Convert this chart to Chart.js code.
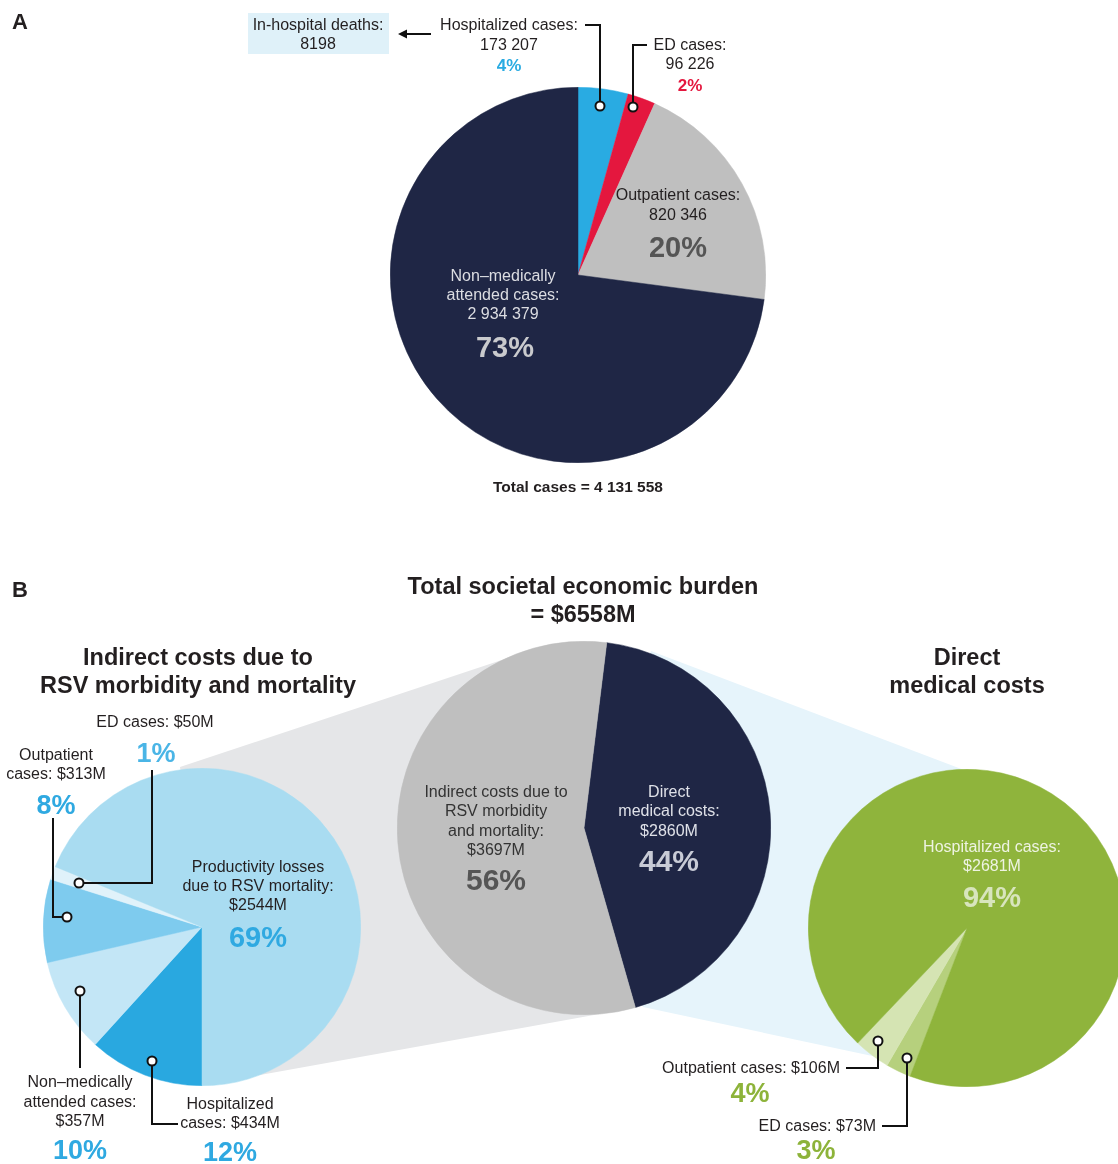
<!DOCTYPE html>
<html>
<head>
<meta charset="utf-8">
<script src="https://cdn.jsdelivr.net/npm/chart.js@4.4.1/dist/chart.umd.min.js"></script>
<style>
  html, body { margin: 0; padding: 0; background: #fff; overflow: hidden; }
  #page { position: relative; width: 1118px; height: 1164px; overflow: hidden;
          font-family: "Liberation Sans", Arial, sans-serif; color: #231f20; }
  canvas { position: absolute; }
  svg { position: absolute; left: 0; top: 0; }
  .t { position: absolute; white-space: nowrap; transform: translate(-50%, -50%); font-size: 16px; line-height: 1; }
  .r { transform: translate(-100%, -50%); }
  .b { font-weight: bold; }
  .box { position: absolute; background: #dff1f9; }
</style>
</head>
<body>
<div id="page">
  <svg id="under" width="1118" height="1164"></svg>
  <canvas id="casesPie"></canvas>
  <canvas id="burdenPie"></canvas>
  <canvas id="indirectPie"></canvas>
  <canvas id="directPie"></canvas>
  <svg id="over" width="1118" height="1164"></svg>
</div>
<script>
// Panel A: RSV cases by setting
const casesLabels = ["Hospitalized cases", "ED cases", "Outpatient cases", "Non–medically attended cases"];
const casesValues = [173207, 96226, 820346, 2934379];
const casesColors = ["#29abe2", "#e4173e", "#bfbfbf", "#1f2645"];
const totalCases = 4131558;
const inHospitalDeaths = 8198;

// Panel B: economic burden ($M)
const burdenLabels = ["Direct medical costs", "Indirect costs due to RSV morbidity and mortality"];
const burdenValues = [2860, 3697];
const burdenColors = ["#1f2645", "#bfbfbf"];
const totalBurden = 6558;

const indirectLabels = ["Hospitalized cases", "Non–medically attended cases", "Outpatient cases", "ED cases", "Productivity losses due to RSV mortality"];
const indirectValues = [434, 357, 313, 50, 2544];
const indirectColors = ["#29a8e0", "#c3e6f6", "#7ecbee", "#e0f2fa", "#a9dcf1"];

const directLabels = ["ED cases", "Outpatient cases", "Hospitalized cases"];
const directValues = [73, 106, 2681];
const directColors = ["#b6d07d", "#d5e4b3", "#8fb43c"];

const sp = n => n.toLocaleString("en-US").replace(/,/g, " ");
const pct = (arr, i) => Math.round(arr[i] / arr.reduce((a, b) => a + b, 0) * 100) + "%";
const page = document.getElementById("page");
const NS = "http://www.w3.org/2000/svg";

function pie(id, cx, cy, r, labels, values, colors, rotation) {
  const c = document.getElementById(id);
  c.width = 2 * r; c.height = 2 * r;
  c.style.left = (cx - r) + "px"; c.style.top = (cy - r) + "px";
  new Chart(c, {
    type: "pie",
    data: { labels, datasets: [{ data: values, backgroundColor: colors, borderColor: colors, borderWidth: 0.5 }] },
    options: {
      responsive: false, animation: false, rotation,
      layout: { padding: 0 },
      plugins: { legend: { display: false }, tooltip: { enabled: false } },
    },
  });
}

function text(x, y, s, opt = {}) {
  const d = document.createElement("div");
  d.className = "t" + (opt.bold ? " b" : "") + (opt.right ? " r" : "");
  d.textContent = s;
  d.style.left = x + "px"; d.style.top = y + "px";
  if (opt.size) d.style.fontSize = opt.size + "px";
  if (opt.color) d.style.color = opt.color;
  if (opt.left) { d.style.transform = "translate(0,-50%)"; }
  page.appendChild(d);
}

function lines(x, y0, arr, step, opt) { arr.forEach((s, i) => text(x, y0 + i * step, s, opt)); }

function svgEl(svg, tag, attrs) {
  const e = document.createElementNS(NS, tag);
  for (const k in attrs) e.setAttribute(k, attrs[k]);
  document.getElementById(svg).appendChild(e);
  return e;
}

function leader(pts, dot) {
  svgEl("over", "polyline", { points: pts.map(p => p.join(",")).join(" "), fill: "none", stroke: "#111", "stroke-width": 2 });
  svgEl("over", "circle", { cx: dot[0], cy: dot[1], r: 4.5, fill: "#fff", stroke: "#111", "stroke-width": 2 });
}

// zoom bands behind panel B pies
svgEl("under", "polygon", { points: "180,767 520,654 584,828 633,1008 260,1075 202,927", fill: "#e5e6e8" });
svgEl("under", "polygon", { points: "651,651 985,778 967,928 877,1057 643,1007 584,828", fill: "#e6f4fb" });

pie("casesPie", 578, 275, 188, casesLabels, casesValues, casesColors, 0);
pie("burdenPie", 584, 828, 187, burdenLabels, burdenValues, burdenColors, 7);
pie("indirectPie", 202, 927, 159, indirectLabels, indirectValues, indirectColors, 180);
pie("directPie", 967, 928, 159, directLabels, directValues, directColors, 201);

// ---- Panel A text ----
text(12, 22, "A", { bold: true, size: 22, left: true });
const box = document.createElement("div");
box.className = "box";
Object.assign(box.style, { left: "248px", top: "13px", width: "141px", height: "41px" });
page.appendChild(box);
lines(318, 25, ["In-hospital deaths:", String(inHospitalDeaths)], 19);
svgEl("over", "line", { x1: 431, y1: 34, x2: 404, y2: 34, stroke: "#111", "stroke-width": 2 });
svgEl("over", "polygon", { points: "398,34 407,29.5 407,38.5", fill: "#111" });

lines(509, 25, [casesLabels[0] + ":", sp(casesValues[0])], 20);
text(509, 65, pct(casesValues, 0), { bold: true, size: 17, color: "#29abe2" });
leader([[585, 25], [600, 25], [600, 101]], [600, 106]);

lines(690, 45, [casesLabels[1] + ":", sp(casesValues[1])], 19);
text(690, 85, pct(casesValues, 1), { bold: true, size: 17, color: "#e4173e" });
leader([[647, 45], [633, 45], [633, 102]], [633, 107]);

lines(678, 195, [casesLabels[2] + ":", sp(casesValues[2])], 20);
text(678, 247, pct(casesValues, 2), { bold: true, size: 29, color: "#555" });

lines(503, 276, ["Non–medically", "attended cases:", sp(casesValues[3])], 19, { color: "#dcdde2" });
text(505, 347, pct(casesValues, 3), { bold: true, size: 29, color: "#c9cacd" });

text(578, 487, "Total cases = " + sp(totalCases), { bold: true, size: 15.5 });

// ---- Panel B text ----
text(12, 590, "B", { bold: true, size: 22, left: true });
lines(583, 587, ["Total societal economic burden", "= $" + totalBurden + "M"], 28, { bold: true, size: 23.5 });
lines(198, 658, ["Indirect costs due to", "RSV morbidity and mortality"], 28, { bold: true, size: 23.5 });
lines(967, 658, ["Direct", "medical costs"], 28, { bold: true, size: 23.5 });

lines(496, 792, ["Indirect costs due to", "RSV morbidity", "and mortality:", "$" + burdenValues[1] + "M"], 19.3, { color: "#333" });
text(496, 880, pct(burdenValues, 1), { bold: true, size: 30, color: "#555" });
lines(669, 792, ["Direct", "medical costs:", "$" + burdenValues[0] + "M"], 19.3, { color: "#dfe1e8" });
text(669, 861, pct(burdenValues, 0), { bold: true, size: 30, color: "#c8cbd6" });

const BLUE = "#2fa9e1";
lines(258, 867, ["Productivity losses", "due to RSV mortality:", "$" + indirectValues[4] + "M"], 19);
text(258, 937, pct(indirectValues, 4), { bold: true, size: 29, color: BLUE });

text(155, 722, "ED cases: $" + indirectValues[3] + "M");
text(156, 753, pct(indirectValues, 3), { bold: true, size: 27, color: "#4ab5e6" });
leader([[84, 883], [152, 883], [152, 770]], [79, 883]);

lines(56, 755, ["Outpatient", "cases: $" + indirectValues[2] + "M"], 19);
text(56, 805, pct(indirectValues, 2), { bold: true, size: 27, color: BLUE });
leader([[62, 917], [53, 917], [53, 818]], [67, 917]);

lines(80, 1082, ["Non–medically", "attended cases:", "$" + indirectValues[1] + "M"], 19.5);
text(80, 1150, pct(indirectValues, 1), { bold: true, size: 27, color: BLUE });
leader([[80, 996], [80, 1068]], [80, 991]);

lines(230, 1104, ["Hospitalized", "cases: $" + indirectValues[0] + "M"], 19);
text(230, 1152, pct(indirectValues, 0), { bold: true, size: 27, color: BLUE });
leader([[152, 1066], [152, 1124], [178, 1124]], [152, 1061]);

const GREEN = "#8db33a";
lines(992, 847, [directLabels[2] + ":", "$" + directValues[2] + "M"], 19, { color: "#eef3e2" });
text(992, 897, pct(directValues, 2), { bold: true, size: 29, color: "#d8e5bd" });

text(840, 1068, directLabels[1] + ": $" + directValues[1] + "M", { right: true });
text(750, 1093, pct(directValues, 1), { bold: true, size: 27, color: GREEN });
leader([[878, 1046], [878, 1068], [846, 1068]], [878, 1041]);

text(876, 1126, directLabels[0] + ": $" + directValues[0] + "M", { right: true });
text(816, 1150, pct(directValues, 0), { bold: true, size: 27, color: GREEN });
leader([[907, 1063], [907, 1126], [882, 1126]], [907, 1058]);
</script>
</body>
</html>
